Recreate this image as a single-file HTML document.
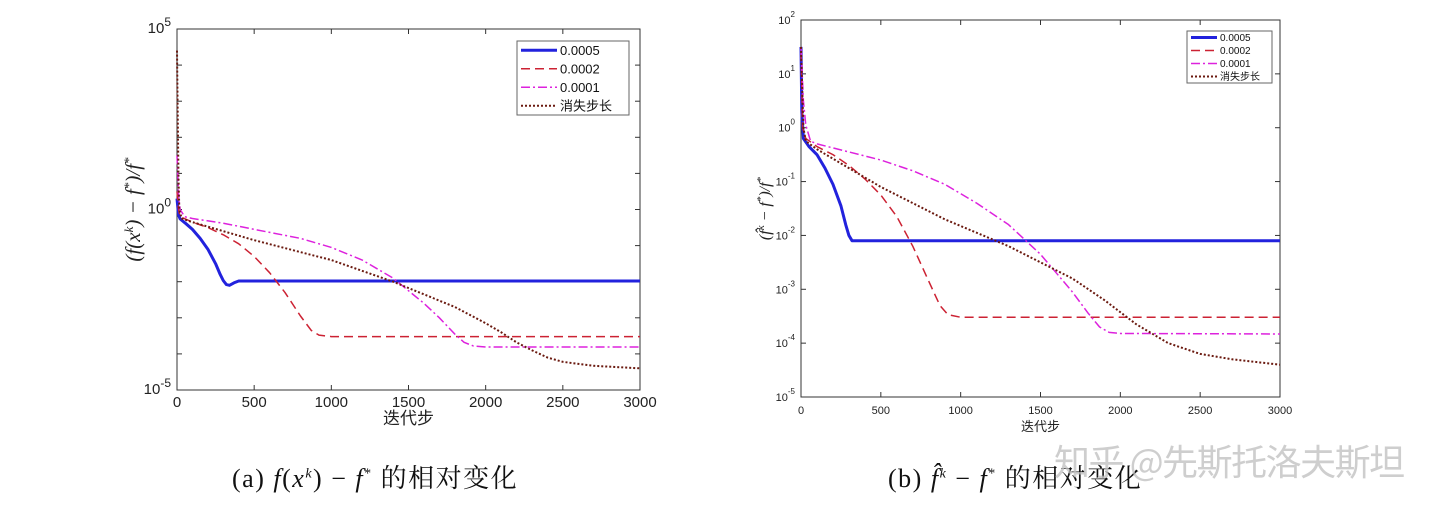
<!DOCTYPE html>
<html><head><meta charset="utf-8"><style>
body{margin:0;background:#fff;width:1440px;height:518px;overflow:hidden;position:relative;font-family:"Liberation Sans","Noto Sans CJK SC",sans-serif}
svg{position:absolute;left:0;top:0}
.cap{position:absolute;top:458px;font-family:"Liberation Serif","Noto Serif CJK SC",serif;font-size:26px;color:#111;white-space:nowrap;letter-spacing:1.5px}
.wm{position:absolute;left:1054px;top:434px;font-family:"Noto Sans CJK SC",sans-serif;font-size:36px;color:rgba(190,190,190,0.75);white-space:nowrap;letter-spacing:-1.5px}
</style></head><body>
<svg id="chart" width="1440" height="518" xmlns="http://www.w3.org/2000/svg"></svg>
<div class="cap" style="left:232px">(a) <i>f</i>(<i>x</i><sup style="font-size:14px"><i>k</i></sup>) − <i>f</i><sup style="font-size:14px">*</sup> 的相对变化</div>
<div class="cap" style="left:888px">(b) <i>f̂</i><sup style="font-size:14px"><i>k</i></sup> − <i>f</i><sup style="font-size:14px">*</sup> 的相对变化</div>
<div class="wm">知乎 @先斯托洛夫斯坦</div>
<script>
const xTicks=[0,500,1000,1500,2000,2500,3000];
const seriesNames=["0.0005","0.0002","0.0001","消失步长"];
// chart A: [iteration, log10 value]
const aBlue=[[0,0.3],[10,-0.15],[20,-0.26],[60,-0.4],[100,-0.55],[150,-0.8],[200,-1.1],[250,-1.5],[280,-1.8],[300,-1.97],[320,-2.08],[340,-2.1],[370,-2.03],[400,-1.98],[3000,-1.98]];
const aRed=[[0,0.5],[10,0],[20,-0.2],[100,-0.35],[200,-0.5],[300,-0.7],[400,-0.95],[500,-1.3],[600,-1.75],[700,-2.3],[800,-2.95],[870,-3.35],[920,-3.48],[1000,-3.52],[3000,-3.52]];
const aMag=[[0,1.5],[10,0.4],[20,0],[50,-0.2],[100,-0.25],[300,-0.38],[500,-0.55],[800,-0.8],[1000,-1.05],[1200,-1.4],[1400,-1.9],[1600,-2.6],[1700,-3.0],[1800,-3.45],[1860,-3.68],[1920,-3.78],[2000,-3.81],[3000,-3.81]];
const aBrown=[[0,4.4],[5,2.5],[10,0.8],[15,0],[30,-0.25],[100,-0.35],[500,-0.85],[1000,-1.4],[1400,-2.0],[1800,-2.7],[2000,-3.15],[2100,-3.4],[2200,-3.68],[2300,-3.9],[2400,-4.1],[2500,-4.22],[2700,-4.33],[3000,-4.4]];
// chart B
const bBlue=[[0,1.5],[5,0.3],[15,-0.2],[50,-0.35],[100,-0.5],[150,-0.75],[200,-1.05],[250,-1.45],[280,-1.8],[300,-2.0],[320,-2.1],[350,-2.1],[3000,-2.1]];
const bRed=[[0,1.4],[10,0],[30,-0.2],[100,-0.35],[200,-0.5],[300,-0.7],[400,-0.95],[500,-1.25],[600,-1.65],[700,-2.2],[800,-2.85],[870,-3.3],[920,-3.47],[1000,-3.52],[3000,-3.52]];
const bMag=[[0,1.5],[15,0.5],[30,0.05],[60,-0.25],[100,-0.3],[300,-0.45],[500,-0.6],[700,-0.8],[900,-1.05],[1100,-1.4],[1300,-1.8],[1500,-2.35],[1700,-3.05],[1800,-3.45],[1870,-3.7],[1930,-3.8],[2000,-3.82],[3000,-3.83]];
const bBrown=[[0,1.5],[15,0],[30,-0.25],[100,-0.4],[300,-0.75],[500,-1.1],[700,-1.4],[900,-1.7],[1100,-1.95],[1300,-2.2],[1500,-2.5],[1700,-2.8],[1900,-3.2],[2100,-3.65],[2300,-4.0],[2500,-4.2],[2700,-4.3],[3000,-4.4]];

const NS="http://www.w3.org/2000/svg";
const svg=document.getElementById('chart');
function mk(t,a,p){const e=document.createElementNS(NS,t);for(const k in a)e.setAttribute(k,a[k]);(p||svg).appendChild(e);return e;}
const styles=[{c:"#2222dd",w:3,d:""},{c:"#cc2233",w:1.5,d:"9,5"},{c:"#dd22dd",w:1.5,d:"9,3,2,3"},{c:"#6b1a10",w:2,d:"2,2"}];

function chart(o){
  const g=mk('g',{});
  
  
  const X=v=>o.x0+(v-0)/3000*(o.x1-o.x0);
  const Y=l=>o.y1-(l-o.lmin)/(o.lmax-o.lmin)*(o.y1-o.y0);
  const pa=mk('rect',{x:o.x0,y:o.y0,width:o.x1-o.x0,height:o.y1-o.y0,fill:'none',stroke:'#333','stroke-width':1},g);
  
  
  xTicks.forEach(t=>{
    mk('line',{x1:X(t),x2:X(t),y1:o.y1,y2:o.y1-5,stroke:'#333'},g);
    mk('line',{x1:X(t),x2:X(t),y1:o.y0,y2:o.y0+5,stroke:'#333'},g);
    const tx=mk('text',{x:X(t),y:o.y1+17,'font-size':o.fs,'text-anchor':'middle',fill:'#222'},g);
    tx.textContent=t;
    
    
  });
  for(let l=o.lmin;l<=o.lmax;l++){
    mk('line',{x1:o.x0,x2:o.x0+5,y1:Y(l),y2:Y(l),stroke:'#333'},g);
    mk('line',{x1:o.x1,x2:o.x1-5,y1:Y(l),y2:Y(l),stroke:'#333'},g);
    if(o.labels.includes(l)){
      const tx=mk('text',{x:o.x0-6,y:Y(l)+4,'font-size':o.fs,'text-anchor':'end',fill:'#222'},g);
      tx.innerHTML='10<tspan dy="-7" font-size="'+(o.fs-3)+'">'+l+'</tspan>';
      
      
    }
  }
  const xl=mk('text',{x:(o.x0+o.x1)/2,y:o.y1+34,'font-size':o.fs+2,'text-anchor':'middle',fill:'#222'},g);
  xl.textContent='迭代步';
  
  
  const yl=mk('text',{x:0,y:0,'font-size':o.yfs,'text-anchor':'middle',fill:'#222','font-family':'Liberation Serif,serif','font-style':'italic',transform:'translate('+o.ylx+','+((o.y0+o.y1)/2)+') rotate(-90)'},g);
  yl.innerHTML=o.ylab;
  
  
  o.series.forEach((s,i)=>{
    const st=styles[i];
    const d=s.map((p,k)=>(k?'L':'M')+X(p[0]).toFixed(2)+','+Y(p[1]).toFixed(2)).join(' ');
    const pth=mk('path',{d:d,fill:'none',stroke:st.c,'stroke-width':st.w,'stroke-dasharray':st.d,'stroke-linejoin':'round'},g);
    
    
  });
  const L=o.leg;
  const lg=mk('g',{},g);
  
  
  mk('rect',{x:L.x,y:L.y,width:L.w,height:L.h,fill:'#fff',stroke:'#666'},lg);
  seriesNames.forEach((n,i)=>{
    const st=styles[i];const yy=L.y+L.h/8*(2*i+1);
    mk('line',{x1:L.x+4,x2:L.x+L.lw,y1:yy,y2:yy,stroke:st.c,'stroke-width':st.w,'stroke-dasharray':st.d},lg);
    const t=mk('text',{x:L.x+L.lw+3,y:yy+L.fs*0.36,'font-size':L.fs,fill:'#111'},lg);
    t.textContent=n;
    
    
  });
}
chart({name:'chart-a',x0:177,x1:640,y0:29,y1:390,lmin:-5,lmax:5,labels:[-5,0,5],fs:15,yfs:21,ylx:140,
  ylab:'(<tspan>f</tspan>(<tspan>x</tspan><tspan dy="-7" font-size="13">k</tspan><tspan dy="7">) − f</tspan><tspan dy="-7" font-size="13">*</tspan><tspan dy="7">)/f</tspan><tspan dy="-7" font-size="13">*</tspan>',
  series:[aBlue,aRed,aMag,aBrown],leg:{x:517,y:41,w:112,h:74,lw:40,fs:13}});
chart({name:'chart-b',x0:801,x1:1280,y0:20,y1:397,lmin:-5,lmax:2,labels:[-5,-4,-3,-2,-1,0,1,2],fs:11,yfs:16,ylx:770,
  ylab:'(f̂<tspan dy="-6" font-size="11">k</tspan><tspan dy="6"> − f</tspan><tspan dy="-6" font-size="11">*</tspan><tspan dy="6">)/f</tspan><tspan dy="-6" font-size="11">*</tspan>',
  series:[bBlue,bRed,bMag,bBrown],leg:{x:1187,y:31,w:85,h:52,lw:30,fs:10}});
</script>
</body></html>
